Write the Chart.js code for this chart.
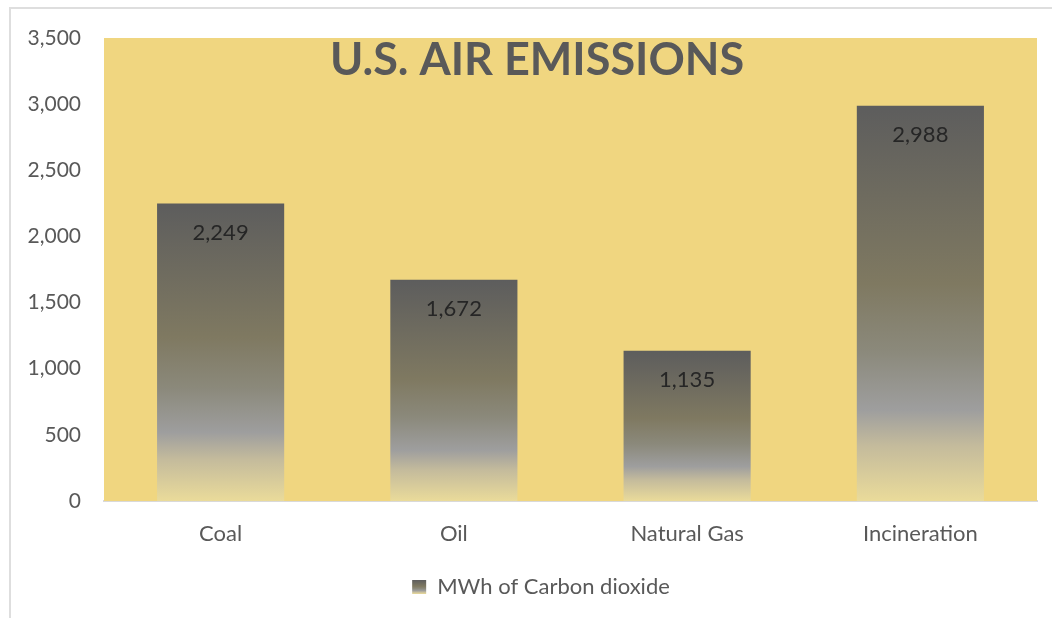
<!DOCTYPE html>
<html>
<head>
<meta charset="utf-8">
<title>U.S. Air Emissions</title>
<script src="https://cdn.jsdelivr.net/npm/chart.js@4"></script>
<style>
    html, body { margin: 0; padding: 0; background: #fff; overflow: hidden; }
    #frame {
        position: absolute;
        left: 9px;
        top: 7px;
        width: 1060px;
        height: 609px;
        border: 2px solid #dedede;
    }
    #frame canvas { display: block; }
</style>
</head>
<body>
<div id="frame">
    <canvas id="emissionsChart" width="1060" height="609"></canvas>
</div>
<script>
// chart data
const categories = ["Coal", "Oil", "Natural Gas", "Incineration"];
const co2Values = [2249, 1672, 1135, 2988];
const yTicks = [0, 500, 1000, 1500, 2000, 2500, 3000, 3500];
const seriesName = "MWh of Carbon dioxide";
const chartTitle = "U.S. AIR EMISSIONS";

const PLOT_BG = "#f0d680";
const TEXT_GRAY = "#595959";
const FONT = "Lato, 'Open Sans', sans-serif";

// vertical fill used on each bar, top -> bottom
const barStops = [
    [0, "#5d5d5d"],
    [0.45, "#7f7961"],
    [0.62, "#8b897b"],
    [0.77, "#9e9e9e"],
    [0.86, "#c4bb9c"],
    [1, "#eadb9a"]
];

function makeGradient(ctx, top, bottom) {
    const g = ctx.createLinearGradient(0, top, 0, bottom);
    barStops.forEach(s => g.addColorStop(s[0], s[1]));
    return g;
}

function fmt(v) {
    return v.toLocaleString("en-US");
}

document.addEventListener("DOMContentLoaded", () => {

    Chart.defaults.font.family = FONT;
    Chart.defaults.font.size = 22;
    Chart.defaults.color = TEXT_GRAY;

    /* ==========================
       Plot background + title
    ========================== */
    const plotBackground = {
        id: "plotBackground",
        beforeDatasetsDraw(chart) {
            const { ctx, chartArea } = chart;
            ctx.save();
            ctx.fillStyle = PLOT_BG;
            ctx.fillRect(chartArea.left, chartArea.top,
                chartArea.right - chartArea.left, chartArea.bottom - chartArea.top);

            ctx.fillStyle = TEXT_GRAY;
            ctx.font = "bold 45px " + FONT;
            ctx.textAlign = "center";
            ctx.textBaseline = "alphabetic";
            ctx.fillText(chartTitle, chart.width / 2 - 4, chartArea.top + 37);
            ctx.restore();
        }
    };

    /* ==========================
       Value labels inside bars
    ========================== */
    const barValues = {
        id: "barValues",
        afterDatasetsDraw(chart) {
            const { ctx } = chart;
            const meta = chart.getDatasetMeta(0);
            ctx.save();
            ctx.fillStyle = "#262626";
            ctx.font = "22px " + FONT;
            ctx.textAlign = "center";
            ctx.textBaseline = "middle";
            meta.data.forEach((bar, i) => {
                ctx.fillText(fmt(co2Values[i]), bar.x, bar.y + 29);
            });
            ctx.restore();
        }
    };

    /* ==========================
       Gradient swatch in legend
    ========================== */
    const legendSwatch = {
        id: "legendSwatch",
        afterDraw(chart) {
            const legend = chart.legend;
            if (!legend || !legend.legendHitBoxes.length) return;
            const hb = legend.legendHitBoxes[0];
            const bw = legend.options.labels.boxWidth;
            const bh = legend.options.labels.boxHeight;
            const top = hb.top + (hb.height - bh) / 2;
            const { ctx } = chart;
            ctx.save();
            ctx.fillStyle = "#ffffff";
            ctx.fillRect(hb.left - 1, top - 1, bw + 2, bh + 2);
            ctx.fillStyle = makeGradient(ctx, top, top + bh);
            ctx.fillRect(hb.left, top, bw, bh);
            ctx.restore();
        }
    };

    const canvas = document.getElementById("emissionsChart");

    new Chart(canvas, {
        type: "bar",
        data: {
            labels: categories,
            datasets: [{
                label: seriesName,
                data: co2Values,
                backgroundColor: (c) => {
                    const chart = c.chart;
                    if (!chart.chartArea || c.raw === undefined) return "#7f7961";
                    const y = chart.scales.y;
                    return makeGradient(chart.ctx, y.getPixelForValue(c.raw), y.getPixelForValue(0));
                },
                borderWidth: 0,
                categoryPercentage: 1,
                barPercentage: 0.545
            }]
        },
        options: {
            responsive: false,
            animation: false,
            layout: {
                padding: { left: 0, right: 0, top: 29, bottom: 10 }
            },
            scales: {
                x: {
                    grid: { display: false, drawTicks: false },
                    border: { display: true, color: "#d9d9d9", width: 2 },
                    ticks: { padding: 20, color: TEXT_GRAY, font: { size: 22 } },
                    afterFit(scale) { scale.height = 67; }
                },
                y: {
                    min: 0,
                    max: 3500,
                    afterBuildTicks(scale) {
                        scale.ticks = yTicks.map(v => ({ value: v }));
                    },
                    grid: { display: false, drawTicks: false },
                    border: { display: false },
                    ticks: {
                        padding: 23,
                        color: TEXT_GRAY,
                        font: { size: 21 },
                        callback: (v) => fmt(v)
                    },
                    afterFit(scale) {
                        scale.width = 93;
                        scale.paddingTop = 0;
                        scale.paddingBottom = 0;
                    }
                },
                // empty strip on the right of the plot
                gutter: {
                    type: "linear",
                    position: "right",
                    grid: { display: false, drawTicks: false },
                    border: { display: false },
                    ticks: { display: false },
                    afterFit(scale) {
                        scale.width = 34;
                        scale.paddingTop = 0;
                        scale.paddingBottom = 0;
                    }
                }
            },
            plugins: {
                title: { display: false },
                tooltip: { enabled: false },
                legend: {
                    position: "bottom",
                    labels: {
                        boxWidth: 14,
                        boxHeight: 14,
                        padding: 8,
                        color: TEXT_GRAY,
                        font: { size: 22 }
                    }
                }
            }
        },
        plugins: [plotBackground, barValues, legendSwatch]
    });
});
</script>
</body>
</html>
